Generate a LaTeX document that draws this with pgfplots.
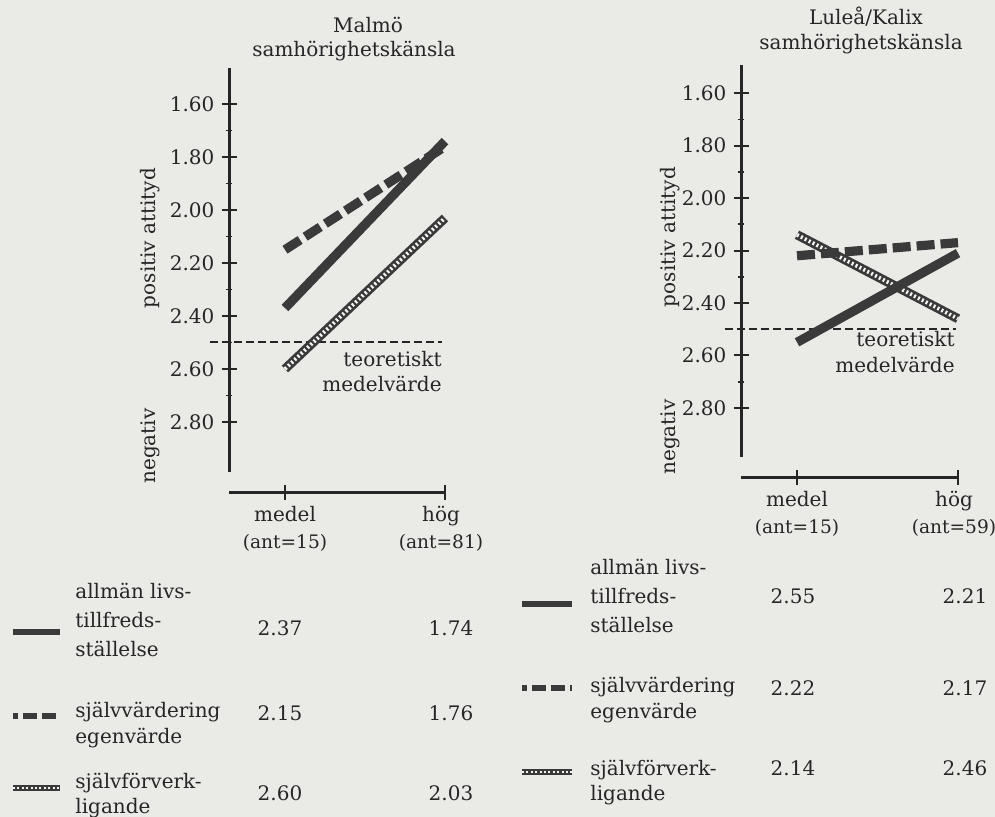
\documentclass[border=0pt]{standalone}
\usepackage{pgfplots}
\pgfplotsset{compat=1.18}
\usepackage{fontspec}
\setmainfont{DejaVu Serif}
\definecolor{paper}{RGB}{234,234,231}
\definecolor{ink}{RGB}{38,38,38}
\definecolor{band}{RGB}{58,58,58}
\tikzset{
  allm/.style={band, line width=4.6pt, line cap=butt},
  sjv/.style={band, line width=4.6pt, line cap=butt, dash pattern=on 9pt off 3pt},
  forvA/.style={band, line width=4.6pt, line cap=butt},
  forvB/.style={paper!50!white, line width=1.9pt, line cap=butt, dash pattern=on 1pt off 1.2pt},
  meanline/.style={ink, line width=1pt, dash pattern=on 4pt off 2pt},
  txt/.style={text=ink, font=\fontsize{10}{14}\selectfont, inner sep=0pt},
}
\newcommand{\antfont}{\fontsize{9.3}{10}\selectfont}
\pgfplotsset{
  chart/.style={
    scale only axis,
    y dir=reverse,
    xmax=1,
    axis x line*=bottom,
    axis y line*=left,
    axis x line shift=10pt,
    axis line style={ink, line width=1.5pt},
    xtick={0},
    extra x ticks={1},
    extra x tick style={grid=none, xticklabel style={xshift=-2pt}},
    ytick={1.6,1.8,2.0,2.2,2.4,2.6,2.8},
    minor ytick={1.7,1.9,2.1,2.3,2.5,2.7},
    y tick label style={/pgf/number format/.cd, fixed, fixed zerofill, precision=2, /tikz/.cd},
    /pgf/number format/assume math mode=true,
    major tick style={ink, line width=1pt},
    minor tick style={ink, line width=0.8pt},
    major tick length=7.5pt,
    minor tick length=3pt,
    tick align=center,
    ticklabel style={font=\fontsize{10}{13.5}\selectfont, text=ink},
    xticklabel style={align=center},
    clip=false,
  }
}
\begin{document}
\begin{tikzpicture}[x=0.5pt,y=-0.5pt]
\fill[paper] (0,0) rectangle (995,817);
\path[use as bounding box] (0,0) rectangle (995,817);
% ---------------- Malmö ----------------
\begin{axis}[chart, at={(114.5pt,-236pt)}, anchor=south west,
  width=108pt, height=202pt, xmin=-0.35, ymin=1.464, ymax=2.989,
  xticklabels={medel\\{\antfont(ant=15)}},
  extra x tick labels={hög\\{\antfont(ant=81)}}]
\addplot[meanline] coordinates {(-0.47,2.5) (0.98,2.5)};
\addplot[forvA] coordinates {(0,2.60) (1,2.03)};
\addplot[forvB] coordinates {(0,2.60) (1,2.03)};
\addplot[sjv] coordinates {(0,2.15) (1,1.76)};
\addplot[allm] coordinates {(0,2.37) (1,1.74)};
\end{axis}
% ---------------- Luleå/Kalix ----------------
\begin{axis}[chart, at={(370.5pt,-228.5pt)}, anchor=south west,
  width=108.5pt, height=196pt, xmin=-0.348, ymin=1.493, ymax=2.987,
  xticklabels={medel\\{\antfont(ant=15)}},
  extra x tick labels={hög\\{\antfont(ant=59)}}]
\addplot[meanline] coordinates {(-0.45,2.5) (0.99,2.5)};
\addplot[forvA] coordinates {(0,2.14) (1,2.46)};
\addplot[forvB] coordinates {(0,2.14) (1,2.46)};
\addplot[sjv] coordinates {(0,2.22) (1,2.17)};
\addplot[allm] coordinates {(0,2.55) (1,2.21)};
\end{axis}
% titles
\node[txt, anchor=base] at (368,33) {Malmö};
\node[txt, anchor=base] at (354,57) {samhörighetskänsla};
\node[txt, anchor=base] at (866,25) {Luleå/Kalix};
\node[txt, anchor=base] at (861,50) {samhörighetskänsla};
% y labels
\node[txt, rotate=90] at (150,238) {positiv attityd};
\node[txt, rotate=90] at (150,446) {negativ};
\node[txt, rotate=90] at (670,237) {positiv attityd};
\node[txt, rotate=90] at (670,437) {negativ};
% mean labels
\node[txt, anchor=base east] at (442,367) {teoretiskt};
\node[txt, anchor=base east] at (442,392) {medelvärde};
\node[txt, anchor=base east] at (955,347) {teoretiskt};
\node[txt, anchor=base east] at (955,373) {medelvärde};
% ---------------- legend left ----------------
\draw[allm, line width=3pt] (13,632) -- (60,632);
\draw[sjv, line width=3pt, dash pattern=on 2.5pt off 2.5pt on 7pt off 2.5pt on 7pt off 2.5pt] (13,716) -- (60,716);
\draw[forvA, line width=3.2pt] (13,788) -- (60,788);
\draw[forvB, line width=1.3pt] (13,788) -- (60,788);
\node[txt, anchor=base west] at (75,598) {allmän livs-};
\node[txt, anchor=base west] at (75,627) {tillfreds-};
\node[txt, anchor=base west] at (75,656) {ställelse};
\node[txt, anchor=base west] at (75,717) {självvärdering};
\node[txt, anchor=base west] at (75,743) {egenvärde};
\node[txt, anchor=base west] at (75,788) {självförverk-};
\node[txt, anchor=base west] at (75,813) {ligande};
\node[txt, anchor=base] at (280,635) {2.37};
\node[txt, anchor=base] at (451,635) {1.74};
\node[txt, anchor=base] at (280,720) {2.15};
\node[txt, anchor=base] at (451,720) {1.76};
\node[txt, anchor=base] at (280,800) {2.60};
\node[txt, anchor=base] at (451,800) {2.03};
% ---------------- legend right ----------------
\draw[allm, line width=3pt] (522,604) -- (572,604);
\draw[sjv, line width=3pt, dash pattern=on 2.5pt off 2.5pt on 7pt off 2.5pt on 7pt off 2.5pt] (522,688) -- (572,688);
\draw[forvA, line width=3.2pt] (522,772) -- (572,772);
\draw[forvB, line width=1.3pt] (522,772) -- (572,772);
\node[txt, anchor=base west] at (590,574) {allmän livs-};
\node[txt, anchor=base west] at (590,603) {tillfreds-};
\node[txt, anchor=base west] at (590,632) {ställelse};
\node[txt, anchor=base west] at (590,692) {självvärdering};
\node[txt, anchor=base west] at (590,718) {egenvärde};
\node[txt, anchor=base west] at (590,775) {självförverk-};
\node[txt, anchor=base west] at (590,800) {ligande};
\node[txt, anchor=base] at (793,603) {2.55};
\node[txt, anchor=base] at (965,603) {2.21};
\node[txt, anchor=base] at (793,695) {2.22};
\node[txt, anchor=base] at (965,695) {2.17};
\node[txt, anchor=base] at (793,775) {2.14};
\node[txt, anchor=base] at (965,775) {2.46};
\end{tikzpicture}
\end{document}
